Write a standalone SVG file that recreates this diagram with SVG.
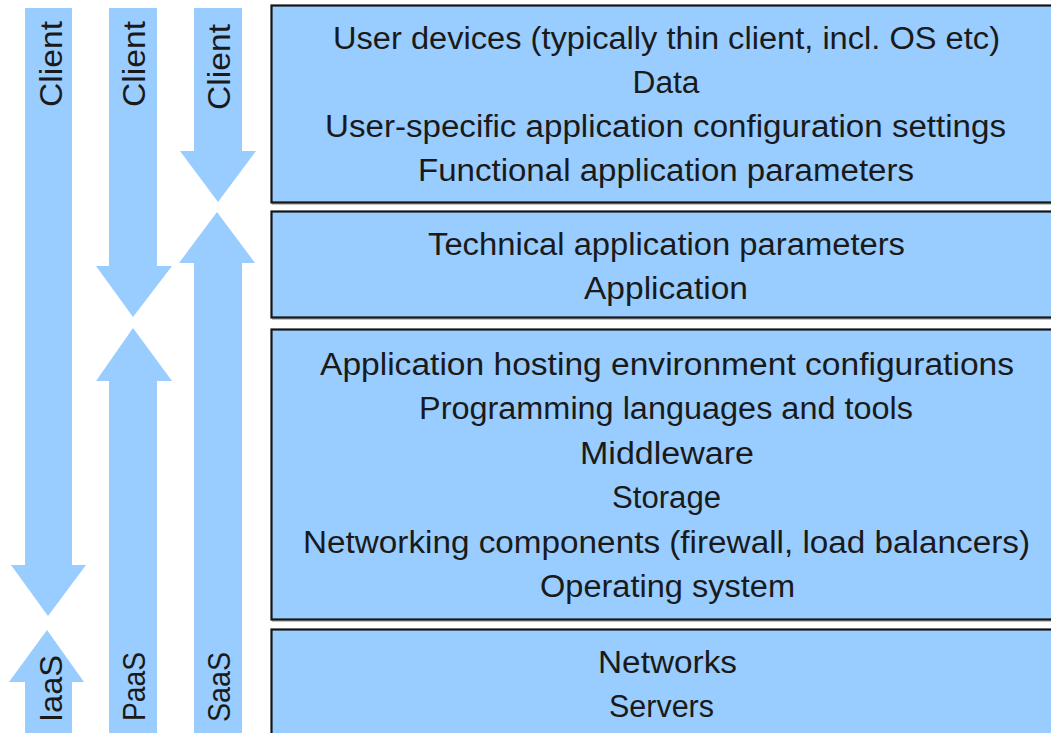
<svg xmlns="http://www.w3.org/2000/svg" width="1051" height="733" viewBox="0 0 1051 733">
  <style>
    .box { fill: #99CCFF; stroke: #151515; stroke-width: 2.2; }
    .shadow { fill: none; stroke: #9a9a9a; stroke-width: 2; opacity: 0.6; }
    .arrow { fill: #99CCFF; stroke: none; }
    .t { font-family: "Liberation Sans", Arial, sans-serif; font-size: 31px; fill: #1a1a1a; text-anchor: middle; }
    .v { font-family: "Liberation Sans", Arial, sans-serif; font-size: 31px; fill: #1a1a1a; text-anchor: start; }
  </style>
  <rect width="1051" height="733" fill="#ffffff"/>

  <g id="connectors">
    <g id="iaas-arrows">
      <polygon class="arrow" points="25,8 72,8 72,565 86,565 48,616 11,565 25,565"/>
      <polygon class="arrow" points="47,630 84,682 72,682 72,733 25,733 25,682 9,682"/>
      <text class="v" transform="translate(62,107) rotate(-90)" textLength="86" lengthAdjust="spacingAndGlyphs">Client</text>
      <text class="v" transform="translate(62,722) rotate(-90)" textLength="67" lengthAdjust="spacingAndGlyphs">IaaS</text>
    </g>
    <g id="paas-arrows">
      <polygon class="arrow" points="109,8 157,8 157,266 172,266 133,317 96,266 109,266"/>
      <polygon class="arrow" points="133,328 172,381 157,381 157,733 109,733 109,381 96,381"/>
      <text class="v" transform="translate(145,107) rotate(-90)" textLength="86" lengthAdjust="spacingAndGlyphs">Client</text>
      <text class="v" transform="translate(145,721) rotate(-90)" textLength="69" lengthAdjust="spacingAndGlyphs">PaaS</text>
    </g>
    <g id="saas-arrows">
      <polygon class="arrow" points="194,8 242,8 242,151 256,151 218,202 180,151 194,151"/>
      <polygon class="arrow" points="217,212 255,263 242,263 242,733 194,733 194,263 179,263"/>
      <text class="v" transform="translate(230,110) rotate(-90)" textLength="86" lengthAdjust="spacingAndGlyphs">Client</text>
      <text class="v" transform="translate(230,722) rotate(-90)" textLength="70" lengthAdjust="spacingAndGlyphs">SaaS</text>
    </g>
  </g>

  <g id="layer-client">
    <rect class="shadow" x="273" y="7" width="790" height="197"/>
    <rect class="box" x="271.5" y="5.5" width="790" height="197"/>
    <text class="t" x="666.5" y="49" textLength="667" lengthAdjust="spacingAndGlyphs">User devices (typically thin client, incl. OS etc)</text>
    <text class="t" x="666" y="93" textLength="67" lengthAdjust="spacingAndGlyphs">Data</text>
    <text class="t" x="665.5" y="137" textLength="681" lengthAdjust="spacingAndGlyphs">User-specific application configuration settings</text>
    <text class="t" x="666" y="181" textLength="496" lengthAdjust="spacingAndGlyphs">Functional application parameters</text>
  </g>

  <g id="layer-application">
    <rect class="shadow" x="273" y="213" width="790" height="106"/>
    <rect class="box" x="271.5" y="211.5" width="790" height="106"/>
    <text class="t" x="666.5" y="255" textLength="477" lengthAdjust="spacingAndGlyphs">Technical application parameters</text>
    <text class="t" x="666" y="299" textLength="164" lengthAdjust="spacingAndGlyphs">Application</text>
  </g>

  <g id="layer-platform">
    <rect class="shadow" x="273" y="331" width="790" height="290"/>
    <rect class="box" x="271.5" y="329.5" width="790" height="290"/>
    <text class="t" x="667" y="375" textLength="694" lengthAdjust="spacingAndGlyphs">Application hosting environment configurations</text>
    <text class="t" x="666" y="419" textLength="494" lengthAdjust="spacingAndGlyphs">Programming languages and tools</text>
    <text class="t" x="667" y="464" textLength="174" lengthAdjust="spacingAndGlyphs">Middleware</text>
    <text class="t" x="666.5" y="508" textLength="109" lengthAdjust="spacingAndGlyphs">Storage</text>
    <text class="t" x="666.5" y="553" textLength="727" lengthAdjust="spacingAndGlyphs">Networking components (firewall, load balancers)</text>
    <text class="t" x="667.5" y="597" textLength="255" lengthAdjust="spacingAndGlyphs">Operating system</text>
  </g>

  <g id="layer-infrastructure">
    <rect class="shadow" x="273" y="631" width="790" height="120"/>
    <rect class="box" x="271.5" y="629.5" width="790" height="120"/>
    <text class="t" x="667.5" y="673" textLength="139" lengthAdjust="spacingAndGlyphs">Networks</text>
    <text class="t" x="661.5" y="717" textLength="105" lengthAdjust="spacingAndGlyphs">Servers</text>
  </g>
</svg>
